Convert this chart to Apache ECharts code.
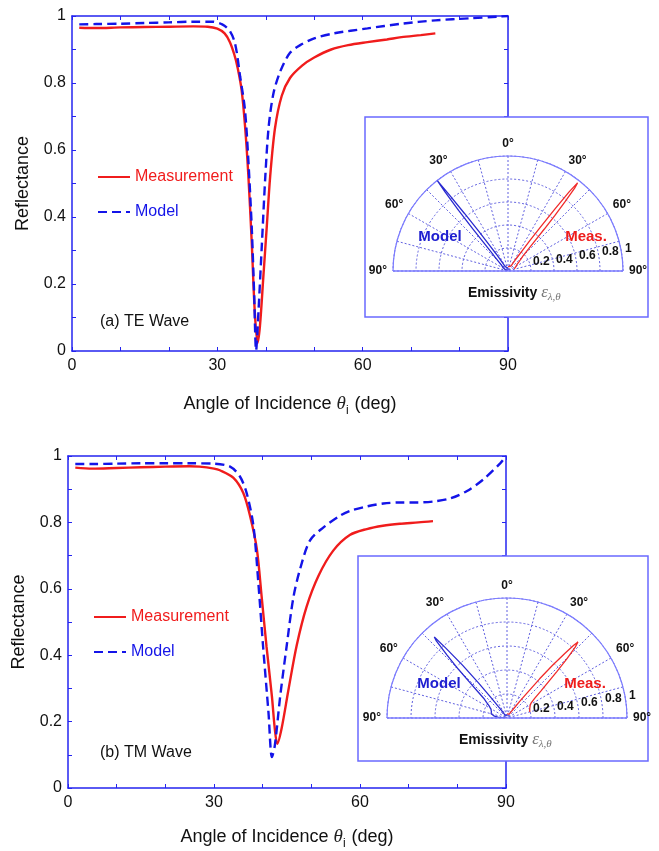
<!DOCTYPE html>
<html>
<head>
<meta charset="utf-8">
<script src="https://cdn.jsdelivr.net/npm/echarts@6/dist/echarts.min.js"></script>
<style>
  html, body { margin: 0; padding: 0; background: #fff; }
  #main { width: 659px; height: 851px; }
</style>
</head>
<body>
<div id="main"></div>
<script>
// reflectance: [angle of incidence (deg), R]
var teMeas = [[1.5,0.965],[5,0.964],[10,0.966],[15,0.967],[20,0.968],[25,0.969],[28,0.968],[30,0.962],[31.5,0.948],[32.6,0.922],[33.5,0.885],[34.2,0.845],[35,0.78],[35.7,0.675],[36.4,0.525],[37.1,0.325],[37.7,0.125],[38.3,0.024],[38.8,0.075],[39.5,0.222],[40.2,0.37],[40.9,0.52],[41.9,0.665],[43.3,0.762],[45,0.815],[47.5,0.852],[50,0.876],[53.5,0.9],[57,0.913],[61,0.922],[65,0.93],[68,0.937],[72,0.943],[75,0.948]];
var teModel = [[1.5,0.975],[5,0.976],[10,0.977],[15,0.979],[20,0.981],[25,0.983],[29,0.983],[31,0.975],[32.6,0.955],[33.7,0.915],[34.7,0.82],[35.7,0.72],[36.4,0.57],[37.1,0.37],[37.6,0.17],[38,0.002],[38.5,0.12],[39.2,0.32],[39.9,0.52],[40.6,0.67],[41.6,0.77],[43,0.835],[45,0.89],[47.1,0.913],[50,0.933],[54,0.948],[61,0.963],[68,0.977],[75,0.987],[82,0.993],[88,0.998],[90,1.0]];
var tmMeas = [[1.5,0.965],[5,0.962],[10,0.964],[15,0.966],[20,0.968],[25,0.969],[27,0.968],[30,0.962],[31.2,0.957],[34,0.934],[36,0.889],[37.4,0.82],[38.8,0.72],[39.8,0.575],[40.8,0.425],[41.9,0.276],[42.5,0.177],[43,0.133],[43.9,0.18],[45.3,0.296],[47,0.43],[49,0.545],[51.5,0.64],[54.5,0.715],[57.9,0.762],[61.4,0.78],[64.7,0.79],[68.2,0.796],[72,0.8],[75,0.804]];
var tmModel = [[1.5,0.976],[5,0.976],[10,0.977],[15,0.978],[20,0.978],[25,0.978],[30,0.977],[33.3,0.968],[35.3,0.939],[36.7,0.889],[38.1,0.79],[39.1,0.62],[40.1,0.424],[41.2,0.226],[41.9,0.093],[42.5,0.128],[43.6,0.276],[44.9,0.424],[46.3,0.573],[47.7,0.66],[49.7,0.745],[52.5,0.785],[55.9,0.82],[58,0.835],[61.4,0.848],[64.8,0.857],[68.2,0.86],[71.6,0.86],[75.1,0.863],[78.5,0.872],[81.9,0.894],[85.3,0.929],[88.8,0.978],[90,1.0]];

var xTicks = [0, 30, 60, 90];
var yTicks = [0, 0.2, 0.4, 0.6, 0.8, 1];
var angleTicks = [0, 30, 60, 90];
var radiusTicks = [0.2, 0.4, 0.6, 0.8, 1];

var FONT = 'Liberation Sans, Arial, Helvetica, sans-serif';
var RED = '#f01c1c';
var BLUE = '#1414e8';
var FRAME = '#2424f0';
var LIGHT = '#7c7cff';

// polar insets
var insets = [
  { box: [365, 117, 283, 200], center: [508, 271], r: 115 },
  { box: [358, 556, 290, 205], center: [507, 718], r: 120 }
];

// emissivity lobe = 1 - R ; measurement on the right, model on the left
function lobe(arr, side) {
  return arr.map(function (p) { return [1 - p[1], side * p[0]]; });
}

var chart = echarts.init(document.getElementById('main'), null, { renderer: 'canvas' });

function xAx(grid, pos, withLabel, gap) {
  return {
    type: 'value', gridIndex: grid, position: pos, min: 0, max: 90, interval: 10,
    axisLine: { onZero: false, lineStyle: { color: FRAME, width: 1.5 } },
    axisTick: { inside: true, length: 4, lineStyle: { color: FRAME } },
    splitLine: { show: false },
    axisLabel: {
      show: withLabel, color: '#111', fontSize: 16, fontFamily: FONT, margin: 7,
      formatter: function (v) { return xTicks.indexOf(v) >= 0 ? String(v) : ''; }
    },
    name: withLabel ? '{n|Angle of Incidence }{t|θ}{s|i}{n| (deg)}' : '',
    nameLocation: 'middle', nameGap: gap,
    nameTextStyle: {
      rich: {
        n: { fontSize: 18, fontFamily: FONT, color: '#111' },
        t: { fontSize: 19, fontFamily: 'Liberation Serif, DejaVu Serif, serif', fontStyle: 'italic', color: '#222' },
        s: { fontSize: 12, fontFamily: FONT, color: '#111', padding: [14, 1, 0, 0] }
      }
    }
  };
}
function yAx(grid, pos, withLabel) {
  return {
    type: 'value', gridIndex: grid, position: pos, min: 0, max: 1, interval: 0.1,
    axisLine: { onZero: false, lineStyle: { color: FRAME, width: 1.5 } },
    axisTick: { inside: true, length: 4, lineStyle: { color: FRAME } },
    splitLine: { show: false },
    axisLabel: {
      show: withLabel, color: '#111', fontSize: 16, fontFamily: FONT, margin: 6,
      formatter: function (v) {
        var t = Math.round(v * 10) / 10;
        return yTicks.indexOf(t) >= 0 ? String(t) : '';
      }
    },
    name: withLabel ? 'Reflectance' : '',
    nameLocation: 'middle', nameGap: 40, nameRotate: 90,
    nameTextStyle: { fontSize: 18, fontFamily: FONT, color: '#111' }
  };
}

function angleAx(i) {
  return {
    polarIndex: i, type: 'value', min: -90, max: 90, interval: 15,
    startAngle: 0, endAngle: 180, clockwise: false, z: 5,
    axisLine: { lineStyle: { color: LIGHT, width: 1.2 } },
    axisTick: { show: false },
    axisLabel: {
      color: '#111', fontSize: 12, fontWeight: 'bold', fontFamily: FONT, margin: 6,
      formatter: function (v) { return angleTicks.indexOf(Math.abs(v)) >= 0 ? Math.abs(v) + '°' : ''; }
    },
    splitLine: { lineStyle: { color: '#6060e0', type: [2, 2], width: 1 } }
  };
}
function radiusAx(i) {
  var rich = {};
  var lift = [0, 2, 6, 10, 13];
  radiusTicks.forEach(function (t, k) {
    rich['r' + k] = { fontSize: 12, fontWeight: 'bold', fontFamily: FONT, color: '#111', padding: [0, 0, lift[k], 2] };
  });
  return {
    polarIndex: i, type: 'value', min: 0, max: 1, interval: 0.2, z: 5,
    axisLine: { show: false },
    axisTick: { show: false },
    axisLabel: {
      margin: 3, align: 'left',
      formatter: function (v) {
        var k = radiusTicks.indexOf(Math.round(v * 10) / 10);
        return k >= 0 ? '{r' + k + '|' + (Math.round(v * 10) / 10) + '}' : '';
      },
      rich: rich
    },
    splitLine: { lineStyle: { color: '#6060e0', type: [2, 2], width: 1 } }
  };
}

function legendFor(top, left) {
  return {
    orient: 'vertical', top: top, left: left, itemWidth: 32, itemHeight: 14, itemGap: 19,
    textStyle: { fontSize: 16, fontFamily: FONT },
    itemStyle: { color: 'transparent', borderWidth: 0, opacity: 0 },
    data: [
      { name: 'Measurement', textStyle: { color: RED } },
      { name: 'Model', textStyle: { color: BLUE } }
    ]
  };
}

function mainLine(name, data, xi, yi) {
  var meas = name === 'Measurement';
  return {
    name: name, type: 'line', xAxisIndex: xi, yAxisIndex: yi, data: data,
    symbol: 'none', smooth: 0.3, z: 2,
    lineStyle: { color: meas ? RED : BLUE, width: 2.4, type: meas ? 'solid' : [9, 5] },
    itemStyle: { color: meas ? RED : BLUE }
  };
}
function lobeLine(name, data, pi, color) {
  return {
    name: name, type: 'line', coordinateSystem: 'polar', polarIndex: pi, data: data,
    symbol: 'none', z: 6, lineStyle: { color: color, width: 1.3 }
  };
}

var graphics = [];
insets.forEach(function (ins, i) {
  graphics.push({
    type: 'rect', z: 3, shape: { x: ins.box[0], y: ins.box[1], width: ins.box[2], height: ins.box[3] },
    style: { fill: '#fff', stroke: '#6a6aff', lineWidth: 1.5 }
  });
  graphics.push({
    type: 'line', z: 7,
    shape: { x1: ins.center[0] - ins.r, y1: ins.center[1], x2: ins.center[0] + ins.r, y2: ins.center[1] },
    style: { stroke: LIGHT, lineWidth: 1.3 }
  });
  graphics.push({
    type: 'text', z: 8, x: ins.center[0] - 68, y: ins.center[1] - 34,
    style: { text: 'Model', fill: '#2020d0', font: 'bold 15px ' + FONT, align: 'center', verticalAlign: 'middle' }
  });
  graphics.push({
    type: 'text', z: 8, x: ins.center[0] + 78, y: ins.center[1] - 34,
    style: { text: 'Meas.', fill: '#ee1c1c', font: 'bold 15px ' + FONT, align: 'center', verticalAlign: 'middle' }
  });
  graphics.push({
    type: 'text', z: 8, x: ins.center[0] - 40 + (i ? -8 : 0), y: ins.center[1] + 22,
    style: {
      text: '{b|Emissivity }{e|ε}{s|λ,θ}', verticalAlign: 'middle',
      rich: {
        b: { font: 'bold 14px ' + FONT, fill: '#111' },
        e: { font: 'italic 17px Liberation Serif, DejaVu Serif, serif', fill: '#777' },
        s: { font: 'italic 11px Liberation Serif, DejaVu Serif, serif', fill: '#777', padding: [9, 0, 0, 0] }
      }
    }
  });
});
graphics.push({
  type: 'text', x: 100, y: 322,
  style: { text: '(a) TE Wave', fill: '#111', font: '16px ' + FONT, verticalAlign: 'middle' }
});
graphics.push({
  type: 'text', x: 100, y: 753,
  style: { text: '(b) TM Wave', fill: '#111', font: '16px ' + FONT, verticalAlign: 'middle' }
});

var option = {
  animation: false,
  backgroundColor: '#fff',
  textStyle: { fontFamily: FONT },
  grid: [
    { left: 72, top: 16, width: 436, height: 335, show: false },
    { left: 68, top: 456, width: 438, height: 337, show: false }
  ],
  xAxis: [xAx(0, 'bottom', true, 40), xAx(0, 'top', false, 0), xAx(1, 'bottom', true, 36), xAx(1, 'top', false, 0)],
  yAxis: [yAx(0, 'left', true), yAx(0, 'right', false), yAx(1, 'left', true), yAx(1, 'right', false)],
  polar: insets.map(function (ins) { return { center: ins.center, radius: ins.r }; }),
  angleAxis: [angleAx(0), angleAx(1)],
  radiusAxis: [radiusAx(0), radiusAx(1)],
  legend: [legendFor(164, 92), legendFor(604, 88)],
  series: [
    mainLine('Measurement', teMeas, 0, 0),
    mainLine('Model', teModel, 0, 0),
    mainLine('Measurement', tmMeas, 2, 2),
    mainLine('Model', tmModel, 2, 2),
    lobeLine('lobe meas a', lobe(teMeas, -1), 0, '#f02a2a'),
    lobeLine('lobe model a', lobe(teModel, 1), 0, '#2a2ad0'),
    lobeLine('lobe meas b', lobe(tmMeas, -1), 1, '#f02a2a'),
    lobeLine('lobe model b', lobe(tmModel, 1), 1, '#2a2ad0')
  ],
  graphic: graphics
};
chart.setOption(option);
</script>
</body>
</html>
